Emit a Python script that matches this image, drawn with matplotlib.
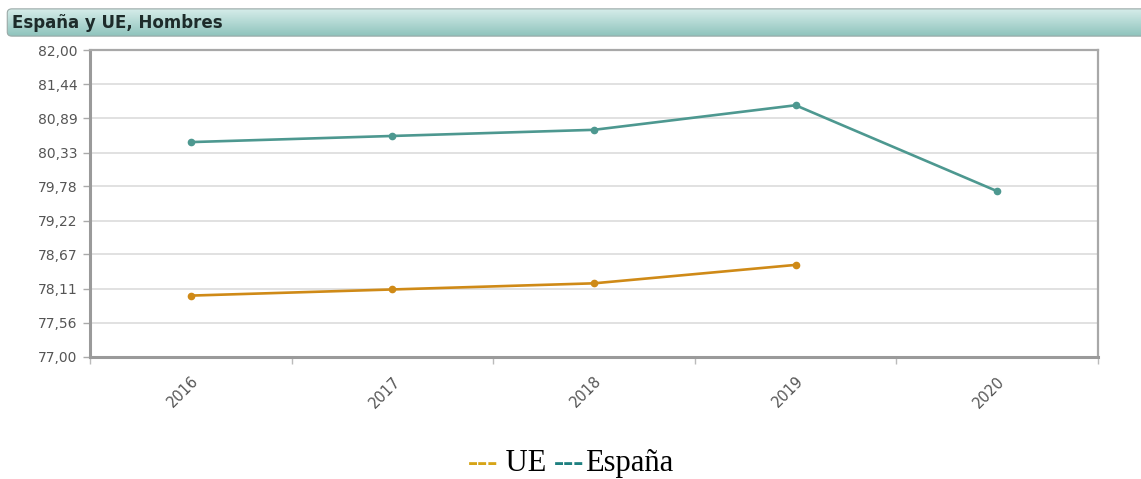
import numpy as np
import matplotlib
matplotlib.use("Agg")
import matplotlib.pyplot as plt
from matplotlib.colors import LinearSegmentedColormap
from matplotlib.patches import FancyBboxPatch
from matplotlib.offsetbox import TextArea, HPacker, AnchoredOffsetbox

# data
years = ["2016", "2017", "2018", "2019", "2020"]
espana = [80.5, 80.6, 80.7, 81.1, 79.7]
ue = [78.0, 78.1, 78.2, 78.5]
yticks = [77.00, 77.56, 78.11, 78.67, 79.22, 79.78, 80.33, 80.89, 81.44, 82.00]

teal = "#4d9890"
orange = "#cf8a17"

fig = plt.figure(figsize=(11.41, 4.79), dpi=100)

# header bar with vertical gradient
W, H = 1141, 479
hax = fig.add_axes([5 / W, 1 - 37 / H, 1 - 5 / W, 29 / H])
hax.set_xlim(0, 1)
hax.set_ylim(0, 1)
hax.axis("off")
grad_cmap = LinearSegmentedColormap.from_list("hdr", ["#8cc2bb", "#d8eeeb"])
grad = np.linspace(0, 1, 100).reshape(-1, 1)
im = hax.imshow(grad, cmap=grad_cmap, aspect="auto", extent=[0, 1, 0, 1], origin="lower")
box = FancyBboxPatch((0.002, 0.03), 1.2, 0.94, boxstyle="round,pad=0,rounding_size=0.004",
                     mutation_aspect=35, transform=hax.transAxes, facecolor="none",
                     edgecolor="#9aa9a7", linewidth=0.8)
hax.add_patch(box)
im.set_clip_path(box)
hax.text(0.006, 0.5, "España y UE, Hombres", transform=hax.transAxes, ha="left", va="center",
         fontsize=12, fontweight="bold", color="#1d2b2a")

# main plot
ax = fig.add_axes([90 / W, 1 - 357 / H, (1098 - 90) / W, (357 - 50) / H])
x = np.arange(len(years))
ax.plot(x, espana, color=teal, linewidth=1.9, marker="o", markersize=4.5, zorder=3)
ax.plot(x[:len(ue)], ue, color=orange, linewidth=1.9, marker="o", markersize=4.5, zorder=3)

ax.set_xlim(-0.5, len(years) - 0.5)
ax.set_ylim(77, 82)
ax.set_yticks(yticks)
ax.set_yticklabels([f"{v:.2f}".replace(".", ",") for v in yticks])
ax.yaxis.grid(True, color="#d9d9d9", linewidth=1.1)
ax.set_axisbelow(True)

# category labels centred in bands, small ticks on band edges
ax.set_xticks(x)
ax.set_xticklabels(years, rotation=45, ha="right", rotation_mode="anchor")
ax.set_xticks(np.arange(-0.5, len(years)), minor=True)
ax.tick_params(axis="x", which="major", length=0, pad=12, labelsize=10.5, labelcolor="#555555")
ax.tick_params(axis="x", which="minor", length=5, width=1, color="#bbbbbb")
ax.tick_params(axis="y", length=5, width=1, color="#aaaaaa", labelsize=10, labelcolor="#555555", pad=4)

for side in ["left", "bottom"]:
    ax.spines[side].set_color("#9a9a9a")
    ax.spines[side].set_linewidth(2.2)
for side in ["top", "right"]:
    ax.spines[side].set_color("#a8a8a8")
    ax.spines[side].set_linewidth(1.6)

# text legend below the chart
parts = [("---", "#d6a417", "bold"), (" UE ", "black", "normal"),
         ("---", "#1e8080", "bold"), ("España", "black", "normal")]
boxes = [TextArea(t, textprops=dict(color=c, fontsize=22, fontweight=w, family="Liberation Serif"))
         for t, c, w in parts]
pack = HPacker(children=boxes, align="baseline", pad=0, sep=0)
anchored = AnchoredOffsetbox(loc="center", child=pack, frameon=False,
                             bbox_to_anchor=(0.5, 0.033), bbox_transform=fig.transFigure)
fig.add_artist(anchored)

fig.savefig("out.png", dpi=100)
